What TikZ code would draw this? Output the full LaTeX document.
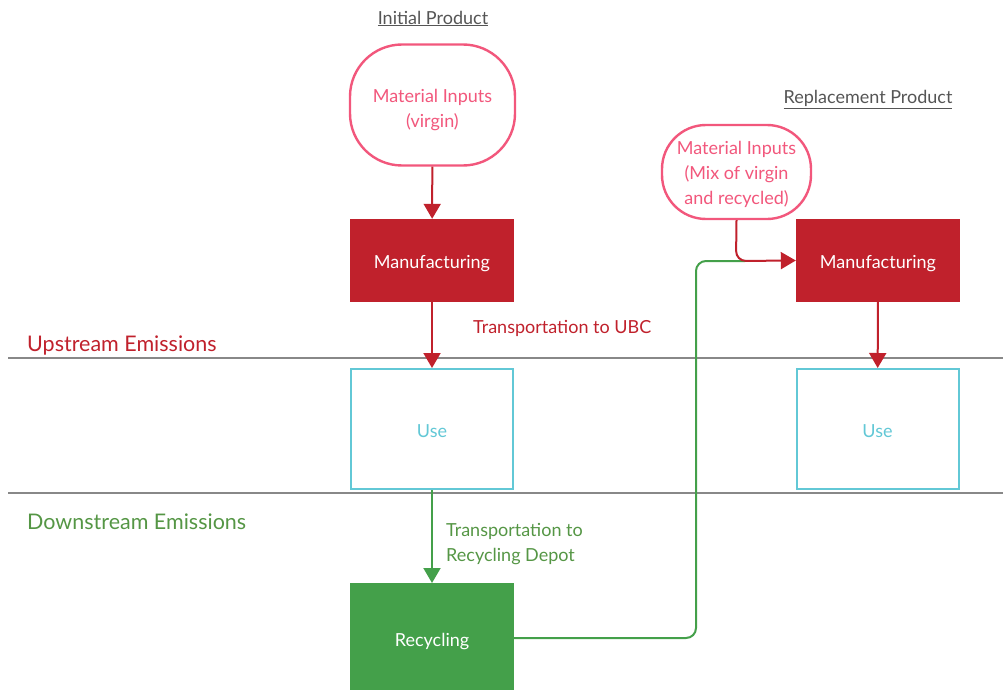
\documentclass[tikz,border=0pt]{standalone}
\usepackage{fontspec}
\setmainfont{Lato}
\usetikzlibrary{arrows.meta}
\definecolor{mred}{HTML}{C0212C}
\definecolor{mpink}{HTML}{F2577C}
\definecolor{mcyan}{HTML}{62C8D6}
\definecolor{mgreen}{HTML}{44A04A}
\definecolor{tgreen}{HTML}{559645}
\definecolor{mgray}{HTML}{888888}
\definecolor{tgray}{HTML}{555555}
\tikzset{
  every node/.style={font=\fontsize{18}{25}\selectfont, inner sep=0pt, align=center},
  inbox/.style={draw=mpink, line width=2.4pt, fill=white, text=mpink, rounded corners=52pt},
  boxtext/.style={text height=16pt, text depth=0pt},
  mfgbox/.style={boxtext, fill=mred, text=white, minimum width=164pt, minimum height=83pt},
  usebox/.style={boxtext, draw=mcyan, line width=2pt, fill=white, text=mcyan, minimum width=162pt, minimum height=120pt},
  recbox/.style={boxtext, fill=mgreen, text=white, minimum width=164pt, minimum height=110pt},
  redarr/.style={draw=mred, line width=2pt, -{Triangle[width=17pt,length=15pt]}},
  greenarr/.style={draw=mgreen, line width=2pt, -{Triangle[width=17pt,length=15pt]}},
  sepline/.style={draw=mgray, line width=2.6pt},
  title/.style={text=tgray},
  zone/.style={font=\fontsize{21.5}{25}\selectfont, anchor=west},
}
\begin{document}
\begin{tikzpicture}[x=1pt,y=-1pt]
\useasboundingbox (0,0) rectangle (1003,690);
% separator lines
\coordinate (l1a) at (8,358); \coordinate (l1b) at (1003,358);
\coordinate (l2a) at (8,493); \coordinate (l2b) at (1003,493);
\draw[sepline] (l1a) -- (l1b);
\draw[sepline] (l2a) -- (l2b);
\node[zone, text=mred] (up) at (27,345.5) {Upstream Emissions};
\node[zone, text=tgreen] (down) at (27,521.5) {Downstream Emissions};
% titles
\node[title] (t1) at (433,18.5) {\underline{Initial Product}};
\node[title] (t2) at (868,99.5) {\underline{Replacement Product}};
% left column
\node[inbox, minimum width=165pt, minimum height=121pt, text height=48pt] (mi1) at (432.5,105) {Material Inputs\\(virgin)};
\node[mfgbox] (mf1) at (432,260.5) {Manufacturing};
\node[usebox] (use1) at (432,429) {Use};
\node[recbox, anchor=north] (rec) at (432,583) {Recycling};
\draw[redarr] (mi1) -- (mf1);
\draw[redarr] (mf1) -- (use1);
\draw[greenarr] (use1) -- (rec);
\node[text=mred, anchor=west] (tr1) at (473,328.5) {Transportation to UBC};
\node[text=tgreen, anchor=west, align=left] (tr2) at (446,544.5) {Transportation to\\Recycling Depot};
% right column
\node[inbox, minimum width=149pt, minimum height=94pt, rounded corners=44pt, text height=69pt] (mi2) at (736.5,172) {Material Inputs\\(Mix of virgin\\and recycled)};
\node[mfgbox] (mf2) at (878,260.5) {Manufacturing};
\node[usebox] (use2) at (877.5,429) {Use};
\coordinate (gj) at (745,261);
\draw[mgreen, line width=2pt, rounded corners=10pt] (rec.east |- 0,638) -- (696,638) -- (696,261) -- (gj);
\draw[redarr, rounded corners=10pt] (mi2.south) -- (736,261) -- (mf2.west);
\draw[redarr] (mf2) -- (use2);
\end{tikzpicture}
\end{document}
